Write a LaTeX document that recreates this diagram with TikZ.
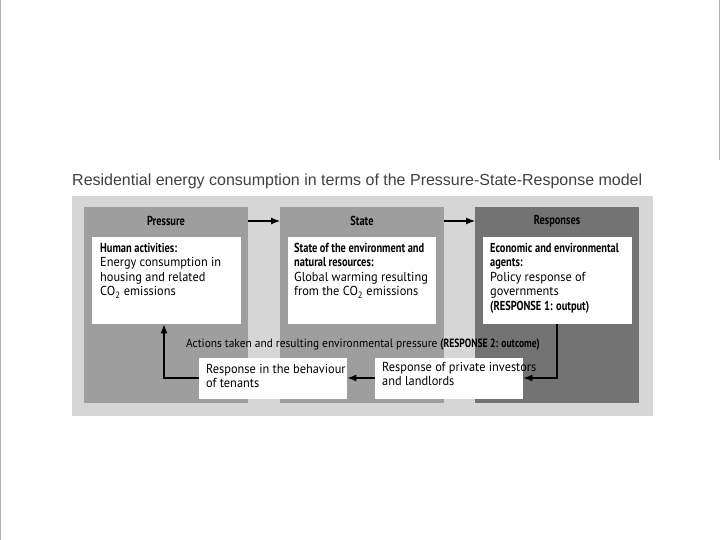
\documentclass[tikz,border=0pt]{standalone}
\usepackage{fontspec}
\usetikzlibrary{arrows.meta}
\setmainfont{PT Sans}[FakeStretch=0.95,BoldFeatures={FakeStretch=0.8}]
\newfontfamily\arialf{Liberation Sans}
\begin{document}
\begin{tikzpicture}[x=1pt,y=-1pt,
  wbox/.style={fill=white,inner sep=0pt},
  txt/.style={font=\fontsize{13}{14.5}\selectfont,align=left,anchor=north west,inner sep=0pt},
  arr/.style={-{Latex[length=9pt,width=7pt]},line width=1.1pt},
  ttl/.style={font=\fontsize{13}{14.5}\selectfont\bfseries}]
\useasboundingbox (0,0) rectangle (720,540);
\draw[gray!60] (0.5,0) -- (0.5,540);
\draw[gray!60] (719.5,0) -- (719.5,160);
\node[anchor=west,font=\arialf\fontsize{16}{18}\selectfont,text=black!75,inner sep=0pt] (title) at (72,181) {Residential energy consumption in terms of the Pressure-State-Response model};
\fill[black!16] (72,196) rectangle (653,416);
\fill[black!38] (84,207) rectangle (248,403);
\fill[black!38] (280,207) rectangle (444,403);
\fill[black!55] (475,207) rectangle (639,403);
\node[ttl] (tp) at (166,221) {Pressure};
\node[ttl] (ts) at (362,221) {State};
\node[ttl] (tr) at (557,221) {Responses};
\node[wbox,minimum width=149,minimum height=87,anchor=north west] (p) at (92,237) {};
\node[wbox,minimum width=148,minimum height=87,anchor=north west] (s) at (288,237) {};
\node[wbox,minimum width=149,minimum height=87,anchor=north west] (r) at (483,237) {};
\node[txt] (pt) at (100,243) {\textbf{Human activities:}\\Energy consumption in\\housing and related\\CO\textsubscript{2} emissions};
\node[txt] (st) at (294,243) {\textbf{State of the environment and}\\\textbf{natural resources:}\\Global warming resulting\\from the CO\textsubscript{2} emissions};
\node[txt] (rt) at (490,243) {\textbf{Economic and environmental}\\\textbf{agents:}\\Policy response of\\governments\\\textbf{(RESPONSE 1: output)}};
\node[txt,anchor=west,font=\fontsize{12}{14}\selectfont] (act) at (186,345) {Actions taken and resulting environmental pressure \textbf{(RESPONSE 2: outcome)}};
\node[wbox,minimum width=148,minimum height=41,anchor=north west] (ten) at (199,358) {};
\node[wbox,minimum width=148,minimum height=41,anchor=north west] (inv) at (375,358) {};
\node[txt] (tent) at (206,364) {Response in the behaviour\\of tenants};
\node[txt] (invt) at (382,362) {Response of private investors\\and landlords};
\coordinate (c1) at (557,378);
\coordinate (c2) at (164,378);
\draw[arr] (248,221) -- (280,221);
\draw[arr] (444,221) -- (475,221);
\draw[arr] (r.south -| c1) -- (c1) -- (inv.east |- c1);
\draw[arr] (inv.west |- c1) -- (ten.east |- c1);
\draw[arr] (ten.west |- c2) -- (c2) -- (p.south -| c2);
\end{tikzpicture}
\end{document}
